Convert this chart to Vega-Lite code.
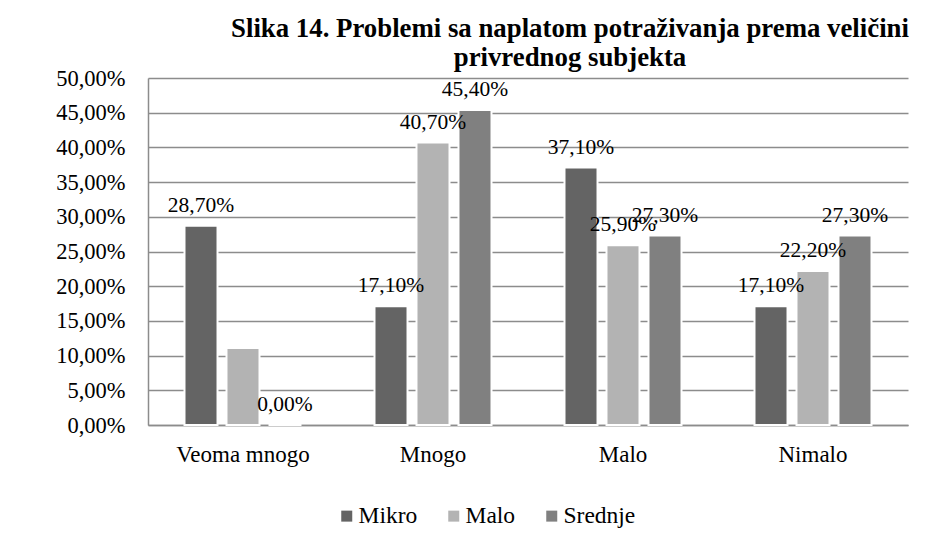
{
  "$schema": "https://vega.github.io/schema/vega-lite/v6.json",
  "width": 760,
  "height": 347,
  "autosize": "none",
  "padding": {"left": 148, "top": 78, "right": 27, "bottom": 126},
  "background": "white",
  "title": {
    "text": ["Slika 14. Problemi sa naplatom potraživanja prema veličini", "privrednog subjekta"],
    "font": "'Liberation Serif', serif",
    "fontSize": 26.8,
    "fontWeight": "bold",
    "color": "black",
    "anchor": "middle",
    "dx": 42,
    "offset": -5,
    "lineHeight": 29
  },
  "data": {
    "values": [
      {"cat": "Veoma mnogo", "size": "Mikro", "v": 0.287},
      {"cat": "Veoma mnogo", "size": "Malo", "v": 0.111},
      {"cat": "Veoma mnogo", "size": "Srednje", "v": 0.0},
      {"cat": "Mnogo", "size": "Mikro", "v": 0.171},
      {"cat": "Mnogo", "size": "Malo", "v": 0.407},
      {"cat": "Mnogo", "size": "Srednje", "v": 0.454},
      {"cat": "Malo", "size": "Mikro", "v": 0.371},
      {"cat": "Malo", "size": "Malo", "v": 0.259},
      {"cat": "Malo", "size": "Srednje", "v": 0.273},
      {"cat": "Nimalo", "size": "Mikro", "v": 0.171},
      {"cat": "Nimalo", "size": "Malo", "v": 0.222},
      {"cat": "Nimalo", "size": "Srednje", "v": 0.273}
    ]
  },
  "encoding": {
    "x": {
      "field": "cat",
      "type": "nominal",
      "sort": ["Veoma mnogo", "Mnogo", "Malo", "Nimalo"],
      "scale": {"paddingInner": 0.3842, "paddingOuter": 0.1921},
      "axis": {
        "title": null,
        "labelAngle": 0,
        "ticks": false,
        "labelPadding": 18,
        "labelFont": "'Liberation Serif', serif",
        "labelFontSize": 23,
        "labelColor": "black",
        "domainColor": "#8c8c8c",
        "domainWidth": 1.5
      }
    },
    "xOffset": {
      "field": "size",
      "type": "nominal",
      "sort": ["Mikro", "Malo", "Srednje"],
      "scale": {"paddingInner": 0.214, "paddingOuter": 0}
    },
    "y": {
      "field": "v",
      "type": "quantitative",
      "scale": {"domain": [0, 0.5], "nice": false},
      "axis": {
        "title": null,
        "format": ".2%",
        "values": [0, 0.05, 0.1, 0.15, 0.2, 0.25, 0.3, 0.35, 0.4, 0.45, 0.5],
        "ticks": false,
        "labelPadding": 23,
        "labelFont": "'Liberation Serif', serif",
        "labelFontSize": 22.5,
        "labelColor": "black",
        "domainColor": "#8c8c8c",
        "domainWidth": 1.5,
        "gridColor": "#8c8c8c",
        "gridWidth": 1.5,
        "gridOpacity": 1
      }
    }
  },
  "layer": [
    {
      "mark": {"type": "bar", "stroke": "white", "strokeWidth": 2},
      "encoding": {
        "color": {
          "field": "size",
          "type": "nominal",
          "scale": {"domain": ["Mikro", "Malo", "Srednje"], "range": ["#646464", "#b3b3b3", "#808080"]},
          "legend": {
            "title": null,
            "orient": "none",
            "direction": "horizontal",
            "legendX": 187,
            "legendY": 426,
            "padding": 0,
            "symbolType": "square",
            "symbolSize": 121,
            "symbolStrokeWidth": 0,
            "labelOffset": 0,
            "columnPadding": 24,
            "labelFont": "'Liberation Serif', serif",
            "labelFontSize": 23.5,
            "labelColor": "black"
          }
        }
      }
    },
    {
      "transform": [{"filter": "!(datum.cat == 'Veoma mnogo' && datum.size == 'Malo')"}],
      "mark": {"type": "text", "dy": -20, "font": "'Liberation Serif', serif", "fontSize": 21.5, "color": "black", "baseline": "middle"},
      "encoding": {
        "text": {"field": "v", "type": "quantitative", "format": ".2%"}
      }
    }
  ],
  "config": {
    "font": "'Liberation Serif', serif",
    "view": {"stroke": null},
    "locale": {
      "number": {"decimal": ",", "thousands": ".", "grouping": [3], "currency": ["", " €"]}
    }
  }
}
